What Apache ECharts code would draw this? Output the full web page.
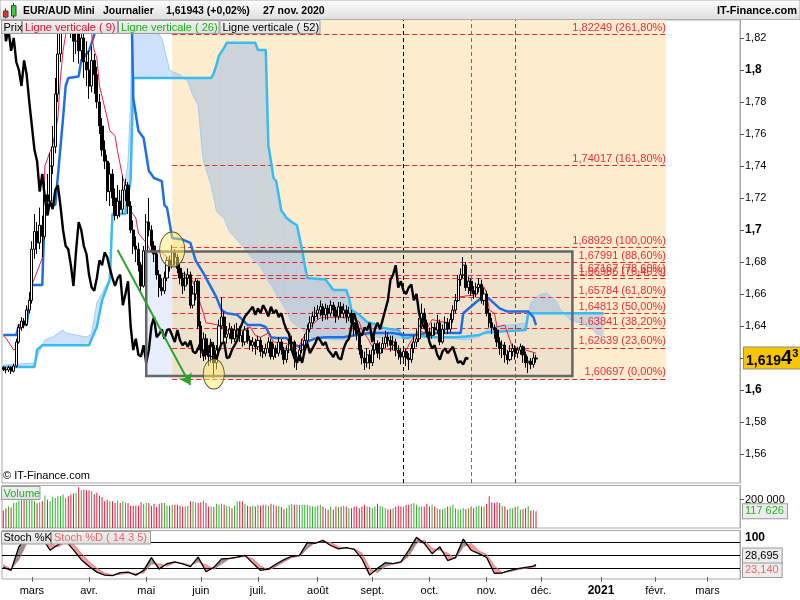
<!DOCTYPE html>
<html lang="fr">
<head>
<meta charset="utf-8">
<title>EUR/AUD Mini</title>
<script src="https://cdn.jsdelivr.net/npm/echarts@6.0.0/dist/echarts.min.js"></script>
<style>
html,body{margin:0;padding:0;background:#fff;}
#chart{width:800px;height:600px;}
</style>
</head>
<body>
<div id="chart"></div>
<script>
// ---------------- DATA ----------------
const monthNames = ['janv.','févr.','mars','avr.','mai','juin','juil.','août','sept.','oct.','nov.','déc.'];
const firstDay = '2020-02-14';
const categoryCount = 284;

// daily candles [open, close, low, high]
const candles = [
[1.6142,1.6130,1.6118,1.6150],[1.6130,1.6125,1.6105,1.6145],[1.6125,1.6140,1.6112,1.6152],[1.6140,1.6118,1.6100,1.6148],[1.6118,1.6150,1.6110,1.6165],
[1.6150,1.6300,1.6140,1.6320],[1.6300,1.6390,1.6290,1.6410],[1.6390,1.6430,1.6370,1.6455],[1.6430,1.6410,1.6385,1.6450],[1.6410,1.6500,1.6400,1.6530],
[1.6500,1.6560,1.6480,1.6610],[1.6560,1.6880,1.6540,1.6930],[1.6880,1.6990,1.6820,1.7100],[1.6990,1.6920,1.6850,1.7050],[1.6920,1.7030,1.6880,1.7140],
[1.7030,1.6960,1.6830,1.7090],[1.6960,1.7220,1.6940,1.7300],[1.7220,1.7180,1.7100,1.7350],[1.7180,1.7400,1.7150,1.7480],[1.7400,1.7520,1.7350,1.7650],
[1.7520,1.7850,1.7480,1.7950],[1.7850,1.8100,1.7800,1.8300],[1.8100,1.8600,1.8050,1.8900],[1.8600,1.8900,1.8500,1.9300],[1.8900,1.9000,1.8700,1.9700],
[1.9000,1.8550,1.8400,1.9200],[1.8550,1.8400,1.8200,1.8800],[1.8400,1.8180,1.8050,1.8500],[1.8180,1.8250,1.8100,1.8450],[1.8250,1.8120,1.8040,1.8380],
[1.8120,1.8200,1.8060,1.8350],[1.8200,1.8050,1.7950,1.8280],[1.8050,1.8000,1.7900,1.8180],[1.8000,1.7900,1.7820,1.8120],[1.7900,1.8060,1.7860,1.8150],
[1.8060,1.7970,1.7850,1.8100],[1.7970,1.7800,1.7760,1.8020],[1.7800,1.7650,1.7600,1.7850],[1.7650,1.7500,1.7460,1.7700],[1.7500,1.7430,1.7380,1.7560],
[1.7430,1.7240,1.7180,1.7470],[1.7240,1.7350,1.7150,1.7420],[1.7350,1.7200,1.7150,1.7380],[1.7200,1.7090,1.7060,1.7260],[1.7090,1.7180,1.7070,1.7280],
[1.7180,1.7130,1.7080,1.7250],[1.7130,1.7250,1.7100,1.7340],[1.7250,1.7280,1.7180,1.7320],[1.7280,1.7150,1.7100,1.7300],[1.7150,1.7000,1.6980,1.7180],
[1.7000,1.6900,1.6850,1.7060],[1.6900,1.6880,1.6800,1.6960],[1.6880,1.6780,1.6740,1.6920],[1.6780,1.6650,1.6620,1.6800],[1.6650,1.6870,1.6640,1.6900],
[1.6870,1.7050,1.6850,1.7100],[1.7050,1.7000,1.6960,1.7200],[1.7000,1.6900,1.6860,1.7030],[1.6900,1.6850,1.6800,1.6930],[1.6850,1.6720,1.6690,1.6870],
[1.6720,1.6640,1.6580,1.6750],[1.6640,1.6620,1.6590,1.6700],[1.6620,1.6700,1.6600,1.6740],[1.6700,1.6810,1.6680,1.6830],[1.6810,1.6780,1.6740,1.6840],
[1.6780,1.6860,1.6760,1.6906],[1.6860,1.6830,1.6780,1.6880],[1.6830,1.6760,1.6730,1.6850],[1.6760,1.6700,1.6660,1.6790],[1.6700,1.6650,1.6600,1.6730],
[1.6650,1.6700,1.6620,1.6740],[1.6700,1.6720,1.6660,1.6760],[1.6720,1.6530,1.6510,1.6740],[1.6530,1.6600,1.6510,1.6650],[1.6600,1.6680,1.6560,1.6700],
[1.6680,1.6400,1.6380,1.6690],[1.6400,1.6250,1.6200,1.6430],[1.6250,1.6320,1.6180,1.6360],[1.6320,1.6220,1.6190,1.6350],[1.6220,1.6210,1.6150,1.6280],
[1.6210,1.6280,1.6170,1.6320],[1.6280,1.6170,1.6075,1.6300],[1.6170,1.6250,1.6130,1.6280],[1.6250,1.6400,1.6230,1.6440],[1.6400,1.6456,1.6380,1.6580],
[1.6456,1.6330,1.6300,1.6490],[1.6330,1.6350,1.6290,1.6400],[1.6350,1.6380,1.6320,1.6420],[1.6380,1.6320,1.6290,1.6400],[1.6320,1.6375,1.6300,1.6410],
[1.6375,1.6380,1.6330,1.6420],[1.6380,1.6340,1.6300,1.6400],[1.6340,1.6300,1.6270,1.6370],[1.6300,1.6375,1.6280,1.6400],[1.6375,1.6310,1.6290,1.6390],
[1.6310,1.6280,1.6250,1.6340],[1.6280,1.6300,1.6240,1.6330],[1.6300,1.6270,1.6220,1.6320],[1.6270,1.6310,1.6250,1.6340],[1.6310,1.6240,1.6210,1.6330],
[1.6240,1.6230,1.6200,1.6280],[1.6230,1.6260,1.6210,1.6290],[1.6260,1.6300,1.6230,1.6330],[1.6300,1.6210,1.6190,1.6320],[1.6210,1.6260,1.6190,1.6290],
[1.6260,1.6230,1.6200,1.6280],[1.6230,1.6300,1.6210,1.6330],[1.6300,1.6250,1.6220,1.6320],[1.6250,1.6190,1.6160,1.6270],[1.6190,1.6250,1.6170,1.6280],
[1.6250,1.6290,1.6230,1.6320],[1.6290,1.6300,1.6250,1.6340],[1.6300,1.6200,1.6140,1.6310],[1.6200,1.6206,1.6125,1.6240],[1.6206,1.6250,1.6180,1.6280],
[1.6250,1.6280,1.6230,1.6320],[1.6280,1.6310,1.6260,1.6350],[1.6310,1.6380,1.6290,1.6410],[1.6380,1.6420,1.6360,1.6460],[1.6420,1.6460,1.6390,1.6490],
[1.6460,1.6480,1.6430,1.6520],[1.6480,1.6500,1.6440,1.6530],[1.6500,1.6520,1.6460,1.6560],[1.6520,1.6470,1.6430,1.6540],[1.6470,1.6510,1.6440,1.6540],
[1.6510,1.6480,1.6440,1.6530],[1.6480,1.6530,1.6460,1.6560],[1.6530,1.6500,1.6460,1.6550],[1.6500,1.6460,1.6420,1.6520],[1.6460,1.6520,1.6440,1.6550],
[1.6520,1.6480,1.6450,1.6550],[1.6480,1.6500,1.6450,1.6540],[1.6500,1.6456,1.6420,1.6530],[1.6456,1.6480,1.6430,1.6520],[1.6480,1.6420,1.6390,1.6500],
[1.6420,1.6375,1.6340,1.6450],[1.6375,1.6350,1.6310,1.6420],[1.6350,1.6250,1.6220,1.6380],[1.6250,1.6200,1.6160,1.6280],[1.6200,1.6170,1.6125,1.6240],
[1.6170,1.6220,1.6140,1.6260],[1.6220,1.6170,1.6130,1.6250],[1.6170,1.6250,1.6150,1.6280],[1.6250,1.6290,1.6220,1.6330],[1.6290,1.6230,1.6200,1.6310],
[1.6230,1.6260,1.6190,1.6300],[1.6260,1.6290,1.6230,1.6330],[1.6290,1.6330,1.6260,1.6370],[1.6330,1.6310,1.6270,1.6360],[1.6310,1.6280,1.6240,1.6340],
[1.6280,1.6300,1.6250,1.6340],[1.6300,1.6250,1.6210,1.6320],[1.6250,1.6230,1.6190,1.6280],[1.6230,1.6206,1.6160,1.6260],[1.6206,1.6240,1.6170,1.6270],
[1.6240,1.6200,1.6150,1.6260],[1.6200,1.6190,1.6125,1.6230],[1.6190,1.6260,1.6170,1.6290],[1.6260,1.6300,1.6230,1.6340],[1.6300,1.6320,1.6270,1.6380],
[1.6320,1.6400,1.6300,1.6450],[1.6400,1.6480,1.6380,1.6540],[1.6480,1.6420,1.6390,1.6510],[1.6420,1.6360,1.6330,1.6440],[1.6360,1.6340,1.6310,1.6390],
[1.6340,1.6390,1.6320,1.6420],[1.6390,1.6375,1.6340,1.6420],[1.6375,1.6420,1.6350,1.6470],[1.6420,1.6300,1.6280,1.6440],[1.6300,1.6380,1.6290,1.6410],
[1.6380,1.6420,1.6350,1.6460],[1.6420,1.6380,1.6350,1.6450],[1.6380,1.6440,1.6360,1.6480],[1.6440,1.6500,1.6420,1.6530],[1.6500,1.6560,1.6480,1.6600],
[1.6560,1.6690,1.6550,1.6720],[1.6690,1.6720,1.6650,1.6760],[1.6720,1.6780,1.6700,1.6830],[1.6780,1.6640,1.6620,1.6800],[1.6640,1.6680,1.6600,1.6710],
[1.6680,1.6620,1.6590,1.6700],[1.6620,1.6600,1.6570,1.6650],[1.6600,1.6640,1.6580,1.6670],[1.6640,1.6660,1.6610,1.6700],[1.6660,1.6560,1.6540,1.6690],
[1.6560,1.6600,1.6530,1.6640],[1.6600,1.6480,1.6460,1.6620],[1.6480,1.6420,1.6390,1.6510],[1.6420,1.6390,1.6350,1.6450],[1.6390,1.6375,1.6320,1.6410],
[1.6375,1.6300,1.6270,1.6390],[1.6300,1.6260,1.6220,1.6330],[1.6260,1.6280,1.6200,1.6310],[1.6280,1.6220,1.6170,1.6300],[1.6220,1.6190,1.6160,1.6250],
[1.6190,1.6240,1.6180,1.6280],[1.6240,1.6260,1.6210,1.6290],[1.6260,1.6230,1.6190,1.6280],[1.6230,1.6250,1.6200,1.6270],[1.6250,1.6270,1.6220,1.6290],
[1.6270,1.6220,1.6170,1.6280],[1.6220,1.6170,1.6140,1.6240],[1.6170,1.6180,1.6106,1.6210],[1.6180,1.6160,1.6130,1.6200],[1.6160,1.6200,1.6140,1.6230],
[1.6200,1.6194,1.6170,1.6220]
];

const volumes = [
124000,140000,152000,145000,176000,181000,195000,200000,205000,205000,
205000,212000,188000,174000,181000,190000,229000,200000,188000,219000,
212000,224000,224000,236000,212000,224000,236000,243000,248000,288000,
267000,272000,267000,267000,260000,238000,248000,229000,219000,188000,
200000,188000,188000,176000,195000,176000,188000,181000,176000,157000,
157000,157000,157000,181000,171000,176000,176000,157000,171000,148000,
171000,176000,176000,157000,157000,164000,164000,164000,157000,152000,
152000,157000,188000,188000,181000,176000,181000,195000,176000,152000,
152000,148000,171000,164000,171000,164000,157000,152000,140000,157000,
188000,188000,188000,171000,157000,152000,157000,152000,164000,157000,
164000,164000,157000,171000,164000,157000,157000,148000,133000,140000,
164000,169000,164000,164000,162000,164000,164000,164000,157000,152000,
152000,157000,164000,152000,140000,129000,152000,129000,152000,148000,
152000,157000,152000,140000,140000,152000,152000,140000,152000,164000,
152000,148000,140000,152000,171000,157000,152000,140000,133000,133000,
140000,152000,157000,152000,152000,164000,164000,171000,176000,164000,
152000,152000,152000,171000,152000,164000,152000,140000,133000,133000,
140000,152000,152000,164000,140000,133000,133000,140000,133000,140000,
152000,140000,152000,157000,152000,152000,171000,224000,181000,176000,
181000,176000,157000,152000,129000,140000,140000,148000,152000,129000,
133000,140000,152000,124000,129000,117626
];

// Ichimoku lines: [day index, price]
const tenkan = [[0,1.6338],[1,1.6325],[4,1.625],[5,1.626],[6,1.637],[9,1.645],[11,1.6656],[13,1.674],[15,1.6825],[16,1.74],[18,1.749],[19,1.753],[21,1.77],[22,1.795],[23,1.812],[24,1.822],[25,1.87],[33,1.87],[34,1.822],[35,1.812],[36,1.8075],[37,1.79],[40,1.77],[41,1.762],[43,1.759],[44,1.749],[46,1.7325],[47,1.728],[49,1.712],[51,1.7075],[52,1.698],[55,1.692],[57,1.686],[60,1.6875],[63,1.683],[65,1.679],[68,1.674],[72,1.6706],[74,1.664],[75,1.658],[77,1.648],[78,1.642],[83,1.6406],[86,1.6375],[88,1.6356],[92,1.6375],[95,1.6394],[97,1.634],[99,1.633],[102,1.6356],[104,1.63],[109,1.629],[111,1.627],[114,1.628],[117,1.6375],[121,1.644],[122,1.645],[128,1.6456],[132,1.645],[134,1.6456],[137,1.6425],[138,1.6375],[140,1.633],[142,1.627],[145,1.626],[150,1.625],[154,1.623],[155,1.625],[157,1.631],[160,1.6375],[162,1.6356],[165,1.644],[169,1.6425],[172,1.642],[174,1.652],[175,1.658],[179,1.659],[181,1.659],[182,1.6644],[185,1.6644],[186,1.6606],[187,1.65],[189,1.648],[190,1.6394],[193,1.6406],[195,1.631],[196,1.626],[201,1.625],[205,1.623]];
const kijun = [[0,1.6344],[5,1.6344],[6,1.6406],[9,1.6406],[10,1.653],[11,1.6656],[15,1.6656],[16,1.7156],[20,1.7156],[23,1.77],[24,1.79],[25,1.795],[29,1.796],[30,1.806],[33,1.812],[35,1.822],[36,1.87],[49,1.87],[50,1.7825],[52,1.762],[54,1.7575],[56,1.737],[58,1.7325],[61,1.7306],[62,1.7156],[63,1.714],[65,1.695],[69,1.694],[72,1.692],[74,1.681],[77,1.673],[80,1.664],[82,1.658],[84,1.65],[86,1.648],[90,1.647],[92,1.644],[94,1.6406],[99,1.6406],[101,1.6394],[103,1.633],[105,1.6325],[109,1.6325],[111,1.629],[114,1.627],[115,1.628],[118,1.631],[121,1.6325],[124,1.633],[131,1.633],[136,1.6344],[141,1.6356],[150,1.6356],[154,1.6344],[158,1.6344],[163,1.6356],[176,1.6356],[177,1.648],[182,1.655],[184,1.6575],[187,1.657],[189,1.654],[191,1.651],[194,1.649],[202,1.649],[204,1.6456],[205,1.6406]];
// cloud (Senkou A / Senkou B, projected 26 days ahead), read at these day indices
const cloudIdx = [0,12,13,15,16,19,23,24,32,33,34,36,38,41,42,45,46,47,48,49,50,59,60,61,64,65,68,71,73,75,76,77,80,81,82,83,85,86,87,90,94,97,98,99,101,102,103,104,105,107,108,109,111,113,115,116,117,118,124,127,132,133,134,137,140,144,146,149,152,154,156,158,165,174,178,183,186,188,201,202,203,206,209,211,213,214,218,222,226,228,231];
const senkouA = [1.6156,1.6169,1.6206,1.6277,1.6313,1.6331,1.6375,1.6356,1.6331,1.6340,1.6356,1.6544,1.6606,1.670,1.7075,1.720,1.725,1.730,1.743,1.781,1.87,1.87,1.822,1.82,1.80,1.799,1.797,1.793,1.784,1.778,1.759,1.743,1.728,1.72,1.712,1.710,1.7075,1.703,1.699,1.6938,1.686,1.680,1.679,1.677,1.671,1.668,1.6656,1.663,1.660,1.655,1.652,1.649,1.6425,1.640,1.638,1.636,1.6345,1.633,1.632,1.6313,1.6313,1.6344,1.6347,1.6356,1.6345,1.6331,1.6328,1.6325,1.6325,1.6325,1.6326,1.6327,1.6331,1.632,1.6313,1.6331,1.6375,1.6394,1.6419,1.648,1.6544,1.6594,1.6606,1.6581,1.655,1.6513,1.6438,1.6419,1.6394,1.6356,1.6331];
const senkouB = [1.6144,1.6144,1.625,1.628,1.628,1.628,1.628,1.628,1.628,1.628,1.632,1.6394,1.656,1.669,1.71,1.71,1.71,1.71,1.722,1.731,1.795,1.795,1.795,1.795,1.795,1.795,1.795,1.795,1.795,1.795,1.795,1.795,1.795,1.798,1.803,1.809,1.814,1.817,1.817,1.817,1.817,1.817,1.8125,1.8125,1.8125,1.753,1.743,1.7325,1.7306,1.712,1.710,1.7075,1.705,1.703,1.6875,1.678,1.67,1.6699,1.669,1.6625,1.6625,1.6575,1.65,1.647,1.6425,1.6406,1.639,1.638,1.6375,1.6325,1.6325,1.6344,1.633,1.633,1.6334,1.6344,1.636,1.6362,1.6375,1.648,1.648,1.648,1.648,1.648,1.648,1.648,1.648,1.648,1.648,1.648,1.648];
const chikouShift = 26;

// Stochastic (14 3 5) read at these day indices
const stochIdx = [0,3,6,9,12,15,18,21,24,27,30,33,36,39,42,45,48,51,54,57,60,63,66,69,72,75,78,81,84,87,90,93,96,99,102,105,108,111,114,117,120,123,126,129,132,135,138,141,144,147,150,153,156,159,162,165,168,171,174,177,180,183,186,189,192,195,198,201,204,205];
const stochK = [22,15,70,96,97,90,62,75,84,63,40,24,11,4,3,10,11,4,15,45,18,31,35,30,24,46,12,22,42,43,46,50,32,15,18,30,40,48,50,80,78,85,73,65,68,64,42,4,20,33,31,35,62,92,78,54,70,38,45,88,62,54,45,8,9,15,19,22,25,28.695];
const stochD = [28,18,40,78,93,94,78,70,80,76,55,35,20,9,4,6,9,8,9,30,30,25,33,32,27,35,28,18,30,42,45,48,42,25,16,24,35,45,48,66,80,82,80,70,66,66,55,20,10,24,30,33,48,78,86,66,62,55,42,70,78,60,52,25,10,12,17,20,23,23.14];
const stochLevels = [80,50,20];

// Fibonacci retracement
const fibLevels = [1.82249,1.74017,1.68929,1.67991,1.67167,1.66986,1.65784,1.64813,1.63841,1.62639,1.60697];
const fibPercents = [261.8,161.8,100,88.6,78.6,76.4,61.8,50,38.2,23.6,0];
const fibFrom = 65, fibTo = 255;
const boxFrom = 55, boxTo = 219, boxLow = 1.6088, boxHigh = 1.6865;
const circles = [[65,1.6878],[81,1.6100]];
const arrowFrom = [44,1.6875], arrowTo = [72,1.6031];
const verticalLines = [154,180,197];

const priceTicks = [1.56,1.58,1.6,1.62,1.64,1.66,1.68,1.7,1.72,1.74,1.76,1.78,1.8,1.82];
const volumeTicks = [200000];
const stochTicks = [100];
const lastPrice = 1.61943, lastVolume = 117626, lastK = 28.695, lastD = 23.14;

// ---------------- BUILD ----------------
const FONT = '"Liberation Sans", Arial, Helvetica, sans-serif';
const categories = [];
(function(){
  const d = new Date(firstDay + 'T00:00:00Z');
  while (categories.length < categoryCount) {
    const wd = d.getUTCDay();
    if (wd > 0 && wd < 6) categories.push(d.toISOString().slice(0,10));
    d.setUTCDate(d.getUTCDate() + 1);
  }
})();
const isMonthStart = (i) => i > 0 && categories[i].slice(5,7) !== categories[i-1].slice(5,7);
const monthLabel = (v) => { const m = +v.slice(5,7); return m === 1 ? '{y|' + v.slice(0,4) + '}' : monthNames[m-1]; };
const comma = (s) => s.replace('.', ',');
const spaced = (n) => String(n).replace(/\B(?=(\d{3})+(?!\d))/g, ' ');

const chikou = [];
for (let i = chikouShift; i < candles.length; i++) chikou.push([i - chikouShift, candles[i][1]]);

const GREEN = '#2cb42c', RED = '#e8183c';
const volData = volumes.map((v, i) => ({value: v, itemStyle: {color: candles[i][1] >= candles[i][0] ? GREEN : RED}}));

const priceStr = lastPrice.toFixed(5);
const priceRich = '{a|' + comma(priceStr.slice(0,5)) + '}{b|' + priceStr.slice(5,6) + '}{c|' + priceStr.slice(6) + '}';

// band fill between two series sampled at the same x positions
function bandRender(xs, top, bot, colorUp, colorDown) {
  return function(params, api) {
    const i = params.dataIndex;
    const a0 = api.coord([xs[i], top[i]]), a1 = api.coord([xs[i+1], top[i+1]]);
    const b0 = api.coord([xs[i], bot[i]]), b1 = api.coord([xs[i+1], bot[i+1]]);
    const s0 = top[i] - bot[i], s1 = top[i+1] - bot[i+1];
    const col = (s) => s >= 0 ? colorUp : colorDown;
    if (s0 * s1 < 0) {
      const t = s0 / (s0 - s1);
      const c = [a0[0] + t*(a1[0]-a0[0]), a0[1] + t*(a1[1]-a0[1])];
      return {type:'group', children:[
        {type:'polygon', shape:{points:[a0, c, b0]}, style:{fill:col(s0)}},
        {type:'polygon', shape:{points:[c, a1, b1]}, style:{fill:col(s1)}}
      ]};
    }
    return {type:'polygon', shape:{points:[a0, a1, b1, b0]}, style:{fill:col(s0 + s1)}};
  };
}

const xBase = {type:'category', data: categories, boundaryGap: true, axisLine:{show:false}, axisTick:{show:false}, axisLabel:{show:false}, splitLine:{show:false}};
const gridBase = {show:true, backgroundColor:'#fff', borderColor:'#a8a8a8', borderWidth:1, left:2, width:738};
const HIDDEN = 'rgba(0,0,0,0)';

function txt(x, y, text, style) {
  return {type:'text', x:x, y:y, silent:true, z:101, style:Object.assign({text:text, fill:'#000', font:'11px ' + FONT, verticalAlign:'middle', align:'left'}, style || {})};
}
function box(x, y, w, h) {
  return {type:'rect', silent:true, z:100, shape:{x:x, y:y, width:w, height:h},
    style:{fill:{type:'linear', x:0, y:0, x2:0, y2:1, colorStops:[{offset:0,color:'#f2f2f2'},{offset:1,color:'#dedede'}]}, stroke:'#9c9c9c', lineWidth:1}};
}
function valueTag(value, text, color, offsetY) {
  return {yAxis:value, symbol:'none', lineStyle:{color:HIDDEN, width:0},
    label:{show:true, position:'end', distance:3, offset:[0, offsetY || 0], formatter:text, color:color, fontSize:11, fontFamily:FONT,
      backgroundColor:'#ececec', borderColor:'#999', borderWidth:1, padding:[2,3,1,2]}};
}

const option = {
  animation: false,
  backgroundColor: '#fff',
  textStyle: {fontFamily: FONT},
  grid: [
    Object.assign({top:20, height:463}, gridBase),
    Object.assign({top:485.5, height:42.5}, gridBase),
    Object.assign({top:530.5, height:48.5}, gridBase)
  ],
  xAxis: [
    Object.assign({gridIndex:0}, xBase),
    Object.assign({gridIndex:1}, xBase),
    Object.assign({}, xBase, {gridIndex:2,
      axisTick:{show:true, alignWithLabel:true, interval:isMonthStart, length:5, lineStyle:{color:'#666'}},
      axisLabel:{show:true, interval:isMonthStart, formatter:monthLabel, margin:6, fontSize:11, color:'#000', fontFamily:FONT,
        rich:{y:{fontWeight:'bold', fontSize:12, color:'#000', fontFamily:FONT}}}})
  ],
  yAxis: [
    {type:'value', gridIndex:0, position:'right', min:1.541875, max:1.83125, splitLine:{show:false},
      axisLine:{show:true, lineStyle:{color:'#a8a8a8'}},
      axisTick:{show:true, customValues:priceTicks, length:4, lineStyle:{color:'#555'}},
      axisLabel:{customValues:priceTicks, margin:5, fontSize:11, color:'#000', fontFamily:FONT,
        formatter:(v) => { const s = comma(String(+v.toFixed(2))); return Math.abs(v*10 - Math.round(v*10)) < 1e-6 ? '{b|' + s + '}' : s; },
        rich:{b:{fontWeight:'bold', fontSize:12, color:'#000', fontFamily:FONT}}}},
    {type:'value', gridIndex:1, position:'right', min:0, max:300000, splitLine:{show:false},
      axisLine:{show:true, lineStyle:{color:'#a8a8a8'}},
      axisTick:{show:true, customValues:volumeTicks, length:4, lineStyle:{color:'#555'}},
      axisLabel:{customValues:volumeTicks, margin:5, fontSize:11, color:'#000', fontFamily:FONT, formatter:(v) => spaced(v)}},
    {type:'value', gridIndex:2, position:'right', min:-5, max:108, splitLine:{show:false},
      axisLine:{show:true, lineStyle:{color:'#a8a8a8'}},
      axisTick:{show:false},
      axisLabel:{customValues:stochTicks, margin:5, formatter:(v) => '{b|' + v + '}',
        rich:{b:{fontSize:12, fontWeight:'bold', color:'#000', fontFamily:FONT, padding:[7,0,0,0]}}}}
  ],
  series: [
    // backgrounds
    {type:'line', name:'bg', xAxisIndex:0, yAxisIndex:0, data:[], silent:true, z:1,
      markArea:{silent:true, z:1, data:[
        [{xAxis:fibFrom, yAxis:1.6066, itemStyle:{color:'#fdecce'}}, {xAxis:fibTo, yAxis:1.84}],
        [{xAxis:fibFrom, yAxis:boxLow, itemStyle:{color:'#eee2cd'}}, {xAxis:boxTo, yAxis:boxHigh}],
        [{xAxis:boxFrom, yAxis:boxLow, itemStyle:{color:'#e7edfb'}}, {xAxis:fibFrom, yAxis:boxHigh}]
      ]}},
    // cloud fill
    {type:'custom', name:'cloud', xAxisIndex:0, yAxisIndex:0, z:2, silent:true, clip:true,
      data: cloudIdx.slice(0,-1).map((x, i) => [x, senkouA[i]]), encode:{x:0, y:1},
      renderItem: bandRender(cloudIdx, senkouA, senkouB, 'rgba(110,168,240,0.34)', 'rgba(110,168,240,0.34)')},
    // fibonacci levels + vertical lines
    {type:'line', name:'fib', xAxisIndex:0, yAxisIndex:0, data:[], silent:true, z:3,
      markLine:{silent:true, z:3, symbol:['none','none'], animation:false,
        data: fibLevels.map((lv, i) => [
          {coord:[fibFrom, lv], lineStyle:{color:'#e8262f', width:1, type:[5,3]},
           label:{show:true, position:'insideEndTop', distance:[0,1], color:'#e8303a', fontSize:11, fontFamily:FONT,
             formatter: comma(lv.toFixed(5)) + ' (' + comma(fibPercents[i].toFixed(2)) + '%)'}},
          {coord:[fibTo, lv]}
        ]).concat(verticalLines.map((x, i) => ({xAxis:x, label:{show:false},
          lineStyle:{color:['#000000','#19a819','#e0102a'][i], width:1, type:[4,3]}})))
      }},
    // Ichimoku lines
    {type:'line', name:'Senkou A', xAxisIndex:0, yAxisIndex:0, data:cloudIdx.map((x, i) => [x, senkouA[i]]), showSymbol:false, silent:true, z:4,
      lineStyle:{color:'#9fcdf4', width:1}},
    {type:'line', name:'Senkou B', xAxisIndex:0, yAxisIndex:0, data:cloudIdx.map((x, i) => [x, senkouB[i]]), showSymbol:false, silent:true, z:4,
      lineStyle:{color:'#36bcf0', width:2.5}},
    {type:'line', name:'Kijun', xAxisIndex:0, yAxisIndex:0, data:kijun, showSymbol:false, silent:true, z:4,
      lineStyle:{color:'#1d6fe3', width:2.5}},
    {type:'line', name:'Tenkan', xAxisIndex:0, yAxisIndex:0, data:tenkan, showSymbol:false, silent:true, z:4,
      lineStyle:{color:'#f01c40', width:1}},
    // candles
    {type:'candlestick', name:'Prix', xAxisIndex:0, yAxisIndex:0, data:candles, barWidth:2.6, silent:true, z:5,
      itemStyle:{color:'#ffffff', color0:'#000000', borderColor:'#000000', borderColor0:'#000000', borderWidth:1}},
    // Chikou
    {type:'line', name:'Chikou', xAxisIndex:0, yAxisIndex:0, data:chikou, showSymbol:false, silent:true, z:6,
      lineStyle:{color:'#000', width:2.4}},
    // annotations: box, circles, arrow, price tag
    {type:'line', name:'annot', xAxisIndex:0, yAxisIndex:0, data:[], silent:true, z:7,
      markArea:{silent:true, z:7, data:[[{xAxis:boxFrom, yAxis:boxLow, itemStyle:{color:HIDDEN, borderColor:'#666', borderWidth:2.5}}, {xAxis:boxTo, yAxis:boxHigh}]]},
      markPoint:{silent:true, z:8, symbol:'circle', label:{show:false},
        itemStyle:{color:'rgba(255,236,110,0.5)', borderColor:'#55552a', borderWidth:1},
        data:[{coord:circles[0], symbolSize:[25,35]}, {coord:circles[1], symbolSize:[21,30]}]},
      markLine:{silent:true, z:9, animation:false, symbol:['none','arrow'], symbolSize:11,
        data:[
          [{coord:arrowFrom, lineStyle:{color:'#2ea42e', width:2, type:'solid'}, label:{show:false}}, {coord:arrowTo}],
          {yAxis:lastPrice, symbol:'none', lineStyle:{color:HIDDEN, width:0},
           label:{show:true, position:'end', distance:4, formatter:priceRich,
             backgroundColor:'#f7c600', borderColor:'#8c8c8c', borderWidth:1, padding:[1,2,0,2],
             rich:{a:{fontSize:14, fontWeight:'bold', color:'#000', fontFamily:FONT, verticalAlign:'bottom'},
                   b:{fontSize:20, fontWeight:'bold', color:'#000', fontFamily:FONT, verticalAlign:'bottom'},
                   c:{fontSize:11, fontWeight:'bold', color:'#000', fontFamily:FONT, verticalAlign:'top'}}}}
        ]}},
    // volume
    {type:'bar', name:'Volume', xAxisIndex:1, yAxisIndex:1, data:volData, barWidth:1, silent:true,
      markLine:{silent:true, symbol:'none', animation:false, data:[valueTag(lastVolume, spaced(lastVolume), '#22b422', 0)]}},
    // stochastic
    {type:'custom', name:'stochFill', xAxisIndex:2, yAxisIndex:2, silent:true, z:2, clip:true,
      data: stochIdx.slice(0,-1).map((x, i) => [x, stochK[i]]), encode:{x:0, y:1},
      renderItem: bandRender(stochIdx, stochK, stochD, '#8e8e8e', '#f39a9a')},
    {type:'line', name:'Stoch %D', xAxisIndex:2, yAxisIndex:2, data:stochIdx.map((x, i) => [x, stochD[i]]), showSymbol:false, silent:true, z:3,
      lineStyle:{color:'#f07c7c', width:1},
      markLine:{silent:true, symbol:'none', animation:false, z:3, data:
        stochLevels.map(v => ({yAxis:v, label:{show:false}, lineStyle:{color:'#000', width:1, type:'solid'}})).concat([
          valueTag(lastD, comma(lastD.toFixed(3)), '#e86a6a', 3),
          valueTag(lastK, comma(lastK.toFixed(3)), '#000', -9)
        ])}},
    {type:'line', name:'Stoch %K', xAxisIndex:2, yAxisIndex:2, data:stochIdx.map((x, i) => [x, stochK[i]]), showSymbol:false, silent:true, z:4,
      lineStyle:{color:'#000', width:1.3}}
  ],
  graphic: [
    {type:'rect', silent:true, z:98, shape:{x:0, y:0, width:800, height:19.5},
      style:{fill:{type:'linear', x:0, y:0, x2:0, y2:1, colorStops:[{offset:0,color:'#ffffff'},{offset:1,color:'#dddddd'}]}, stroke:'#b0b0b0', lineWidth:1}},
    {type:'line', silent:true, z:99, shape:{x1:5.5, y1:8.5, x2:5.5, y2:18.5}, style:{stroke:'#333', lineWidth:1}},
    {type:'rect', silent:true, z:99, shape:{x:3.5, y:11, width:4.5, height:6}, style:{fill:'#e8303a', stroke:'#444', lineWidth:1}},
    {type:'line', silent:true, z:99, shape:{x1:13.5, y1:3, x2:13.5, y2:18}, style:{stroke:'#333', lineWidth:1}},
    {type:'rect', silent:true, z:99, shape:{x:11.5, y:5.5, width:4.5, height:10.5}, style:{fill:'#3cc83c', stroke:'#444', lineWidth:1}},
    txt(23, 11, 'EUR/AUD Mini', {font:'bold 10.5px ' + FONT}),
    txt(103, 11, 'Journalier', {font:'bold 10.5px ' + FONT}),
    txt(166, 11, '1,61943 (+0,02%)', {font:'bold 10.5px ' + FONT}),
    txt(263, 11, '27 nov. 2020', {font:'bold 10.5px ' + FONT}),
    txt(797, 11, 'IT-Finance.com', {font:'bold 11px ' + FONT, align:'right'}),
    box(1.5, 20.5, 20, 13), txt(3.5, 27.5, 'Prix'),
    box(22.5, 20.5, 95, 13), txt(25, 27.5, 'Ligne verticale ( 9)', {fill:'#e8102e'}),
    box(118.5, 20.5, 100.5, 13), txt(121, 27.5, 'Ligne verticale ( 26)', {fill:'#18b418'}),
    box(220, 20.5, 100, 13), txt(222.5, 27.5, 'Ligne verticale ( 52)'),
    txt(3, 476, '© IT-Finance.com'),
    box(1.5, 486.5, 38.5, 13), txt(3.5, 493.5, 'Volume', {fill:'#22b422'}),
    box(1.5, 531.5, 49, 12.5), txt(3.5, 538, 'Stoch %K'),
    box(51.5, 531.5, 99, 12.5), txt(54, 538, 'Stoch %D ( 14 3 5)', {fill:'#f06464'})
  ]
};

const chart = echarts.init(document.getElementById('chart'), null, {renderer:'canvas', width:800, height:600});
chart.setOption(option);
</script>
</body>
</html>
